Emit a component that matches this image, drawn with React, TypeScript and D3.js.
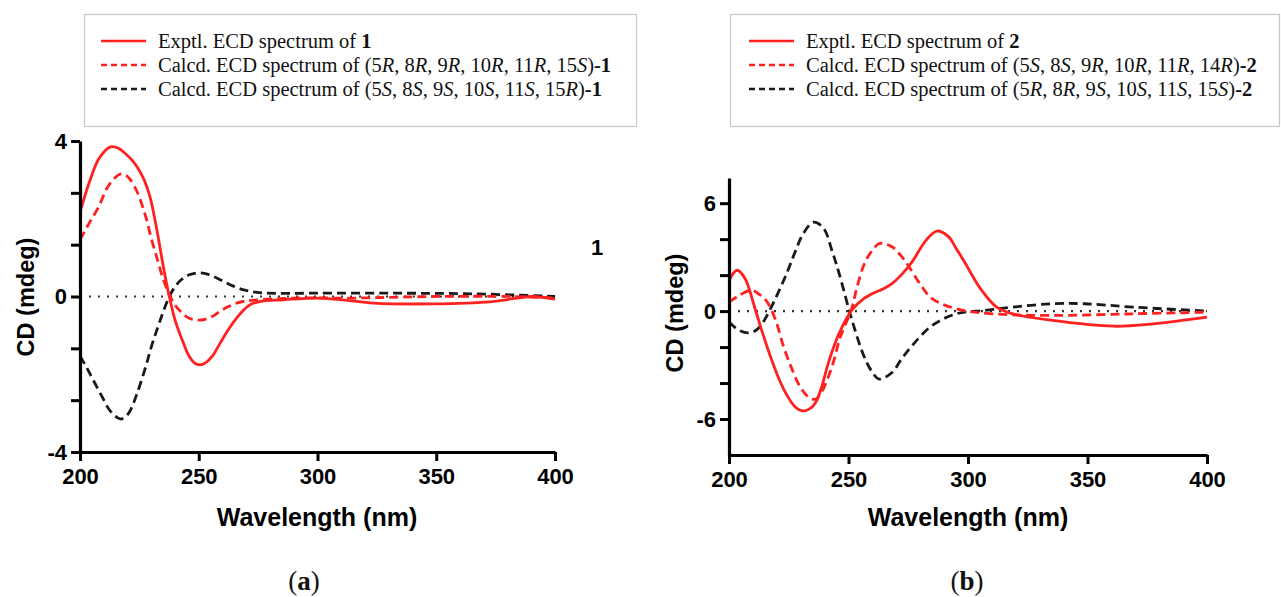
import React, { useEffect, useRef } from "react";
import * as d3 from "d3";

// wavelength (nm) / CD (mdeg) pairs
const exptA: [number, number][] = [
  [200, 2.17], [204, 2.95], [208, 3.55], [212.8, 3.85], [216, 3.82], [219.4, 3.66], [222, 3.5],
  [224.4, 3.3], [227, 3.0], [229.3, 2.6], [231, 2.15], [233, 1.5], [235, 0.8], [237.6, 0],
  [240, -0.6], [242.6, -1.05], [245.9, -1.53], [248, -1.7], [250.4, -1.76], [253, -1.7],
  [255.8, -1.53], [259, -1.2], [262.5, -0.85], [266, -0.55], [269, -0.34], [272, -0.2],
  [275.7, -0.13], [285.7, -0.085], [299, -0.04], [310.5, -0.085], [323.8, -0.17],
  [348.6, -0.19], [373.5, -0.13], [390, 0], [400, -0.07],
];
const calcA1: [number, number][] = [
  [200, 1.46], [204, 1.9], [207.8, 2.3], [212, 2.85], [216.9, 3.15], [219, 3.13], [221, 3.02],
  [224, 2.7], [227.7, 2.05], [230, 1.5], [232.6, 0.95], [235, 0.45], [237.6, 0.05],
  [240, -0.22], [242.6, -0.4], [246, -0.56], [250, -0.61], [253, -0.58], [255.8, -0.51],
  [259, -0.38], [262.5, -0.26], [267, -0.15], [272.4, -0.1], [290.6, -0.04], [315.5, -0.04],
  [348.6, 0], [381.7, 0], [400, -0.04],
];
const calcA2: [number, number][] = [
  [200, -1.53], [203, -1.85], [206, -2.2], [209.5, -2.6], [212.8, -2.95], [216.9, -3.15],
  [219, -3.1], [221, -2.95], [224, -2.5], [227.7, -1.8], [230, -1.3], [232.6, -0.82],
  [235, -0.4], [237.6, 0], [240, 0.25], [242.6, 0.43], [246, 0.56], [250, 0.61], [254, 0.57],
  [259.1, 0.43], [264, 0.28], [269, 0.17], [274, 0.11], [279, 0.085], [299, 0.085],
  [332, 0.085], [365, 0.07], [400, 0],
];

const exptB: [number, number][] = [
  [200, 1.71], [203.4, 2.27], [206.7, 1.81], [210.9, 0.13], [214, -1.2], [217.7, -2.66],
  [221, -3.8], [224.4, -4.71], [227.5, -5.3], [230.8, -5.55], [233.5, -5.45], [236.2, -5.09],
  [238.8, -4.2], [241.2, -3.04], [243.8, -2.0], [246.3, -1.17], [251.3, 0.04], [256.4, 0.69],
  [261.4, 1.06], [264, 1.2], [268.2, 1.53], [272, 2.0], [276.6, 2.74], [282.5, 3.95],
  [287, 4.45], [291.8, 4.14], [295, 3.5], [298.5, 2.74], [305.2, 1.25], [312, 0.22],
  [318.7, -0.15], [335.5, -0.52], [360.8, -0.84], [377.6, -0.71], [400, -0.34],
];
const calcB1: [number, number][] = [
  [200, 0.5], [204, 0.85], [209.3, 1.16], [212.5, 0.95], [216, 0.5], [219.5, -0.5],
  [222.7, -1.92], [226, -3.1], [229.5, -4.15], [233, -4.75], [236.2, -4.9], [238.5, -4.55],
  [241.2, -3.78], [244, -2.7], [246.3, -1.55], [251.3, 0.13], [253.5, 1.3], [256.4, 2.55],
  [259.5, 3.3], [263.1, 3.76], [268.2, 3.58], [271.5, 3.15], [274.9, 2.55], [280, 1.5],
  [285, 0.69], [295.1, 0.13], [310.3, -0.15], [335.5, -0.24], [369.2, -0.15], [400, -0.06],
];
const calcB2: [number, number][] = [
  [200, -0.61], [204, -1.05], [208.4, -1.21], [211.5, -1.05], [214.3, -0.61], [219.4, 0.69],
  [224.4, 2.18], [228, 3.4], [231.1, 4.32], [235.4, 4.94], [239.6, 4.6], [243, 3.4],
  [246.3, 1.99], [251.3, -0.43], [256.4, -2.48], [259.5, -3.3], [262.8, -3.78], [268.2, -3.41],
  [272, -2.7], [276.6, -1.92], [285, -0.8], [295.1, -0.15], [306.9, 0.04], [318.7, 0.22],
  [335.5, 0.41], [349, 0.41], [369.2, 0.22], [400, 0],
];

const xTicks = [200, 250, 300, 350, 400];
const legendA = [
  [["Exptl. ECD spectrum of ", ""], ["1", "b"]],
  [["Calcd. ECD spectrum of (5", ""], ["R", "i"], [", 8", ""], ["R", "i"], [", 9", ""], ["R", "i"], [", 10", ""], ["R", "i"], [", 11", ""], ["R", "i"], [", 15", ""], ["S", "i"], [")", ""], ["-1", "b"]],
  [["Calcd. ECD spectrum of (5", ""], ["S", "i"], [", 8", ""], ["S", "i"], [", 9", ""], ["S", "i"], [", 10", ""], ["S", "i"], [", 11", ""], ["S", "i"], [", 15", ""], ["R", "i"], [")", ""], ["-1", "b"]],
];
const legendB = [
  [["Exptl. ECD spectrum of ", ""], ["2", "b"]],
  [["Calcd. ECD spectrum of (5", ""], ["S", "i"], [", 8", ""], ["S", "i"], [", 9", ""], ["R", "i"], [", 10", ""], ["R", "i"], [", 11", ""], ["R", "i"], [", 14", ""], ["R", "i"], [")", ""], ["-2", "b"]],
  [["Calcd. ECD spectrum of (5", ""], ["R", "i"], [", 8", ""], ["R", "i"], [", 9", ""], ["S", "i"], [", 10", ""], ["S", "i"], [", 11", ""], ["S", "i"], [", 15", ""], ["S", "i"], [")", ""], ["-2", "b"]],
];

const RED = "#ff2020";
const BLACK = "#1a1a1a";
const sans = "'Liberation Sans', Arial, sans-serif";
const serif = "'Liberation Serif', 'Times New Roman', serif";

function drawPanel(svg: any, o: any) {
  const x = d3.scaleLinear().domain([200, 400]).range([o.left, o.right]);
  const y = d3.scaleLinear().domain(o.yDomain).range([o.bottom, o.top]);
  const g = svg.append("g");

  // legend box
  g.append("rect").attr("x", o.boxX + 0.5).attr("y", 14.5).attr("width", o.boxW).attr("height", 112)
    .attr("fill", "white").attr("stroke", "#c8c8c8").attr("stroke-width", 1.2);
  const styles = [
    { c: RED, d: null },
    { c: RED, d: "6,4" },
    { c: BLACK, d: "6,4" },
  ];
  o.legend.forEach((row: any, i: number) => {
    const ly = 41 + i * 24;
    g.append("line").attr("x1", o.lineX).attr("x2", o.lineX + 45).attr("y1", ly).attr("y2", ly)
      .attr("stroke", styles[i].c).attr("stroke-width", 2.5).attr("stroke-dasharray", styles[i].d);
    const t = g.append("text").attr("x", o.textX).attr("y", ly + 7)
      .attr("font-family", serif).attr("font-size", 20.5).attr("fill", "#111");
    row.forEach(([s, f]: [string, string]) => {
      t.append("tspan").text(s)
        .attr("font-style", f === "i" ? "italic" : null)
        .attr("font-weight", f === "b" ? "bold" : null);
    });
  });

  // zero line
  g.append("line").attr("x1", x(200)).attr("x2", x(400)).attr("y1", y(0)).attr("y2", y(0))
    .attr("stroke", "#333").attr("stroke-width", 2.2).attr("stroke-dasharray", "2,7");

  const line = d3.line<[number, number]>().x((d) => x(d[0])).y((d) => y(d[1]))
    .curve(d3.curveCatmullRom.alpha(0.5));
  const series = [
    { data: o.calc2, c: BLACK, d: "9,5" },
    { data: o.calc1, c: RED, d: "9,5" },
    { data: o.expt, c: RED, d: null },
  ];
  series.forEach((s) => {
    g.append("path").attr("d", line(s.data)).attr("fill", "none").attr("stroke", s.c)
      .attr("stroke-width", 2.8).attr("stroke-dasharray", s.d);
  });

  // axes
  const xAxis = g.append("g").attr("transform", `translate(0,${o.bottom})`)
    .call(d3.axisBottom(x).tickValues(xTicks).tickSize(9).tickSizeOuter(0).tickPadding(7));
  const yAxis = g.append("g").attr("transform", `translate(${o.left},0)`)
    .call(d3.axisLeft(y).tickValues(o.yTicks).tickSize(9).tickSizeOuter(0).tickPadding(4)
      .tickFormat((d: any) => (o.yLabels.includes(d) ? String(d) : "")));
  [xAxis, yAxis].forEach((a) => {
    a.select(".domain").attr("stroke", "#000").attr("stroke-width", 3.2);
    a.selectAll(".tick line").attr("stroke", "#000").attr("stroke-width", 3);
    a.selectAll(".tick text").attr("font-family", sans).attr("font-weight", "bold")
      .attr("font-size", 22).attr("fill", "#000");
  });

  g.append("text").attr("x", o.xLabelX).attr("y", 526)
    .attr("text-anchor", "middle").attr("font-family", sans).attr("font-weight", "bold")
    .attr("font-size", 25).text("Wavelength (nm)");
  g.append("text").attr("transform", `translate(${o.yLabelX},${o.yLabelY}) rotate(-90)`)
    .attr("text-anchor", "middle").attr("font-family", sans).attr("font-weight", "bold")
    .attr("font-size", 23.5).text("CD (mdeg)");

  const cap = g.append("text").attr("x", o.capX).attr("y", 590).attr("text-anchor", "middle")
    .attr("font-family", serif).attr("font-size", 27).attr("fill", "#111");
  cap.append("tspan").text("(");
  cap.append("tspan").attr("font-weight", "bold").text(o.cap);
  cap.append("tspan").text(")");
}

export default function App() {
  const ref = useRef<SVGSVGElement>(null);
  useEffect(() => {
    const svg = d3.select(ref.current);
    svg.selectAll("*").remove();
    drawPanel(svg, {
      left: 80, right: 555, top: 141, bottom: 452, yDomain: [-4, 4],
      yTicks: [-4, -8 / 3, -4 / 3, 0, 4 / 3, 8 / 3, 4], yLabels: [-4, 0, 4],
      expt: exptA, calc1: calcA1, calc2: calcA2, legend: legendA,
      boxX: 84, boxW: 552, lineX: 101, textX: 158, capX: 304, cap: "a",
      xLabelX: 317, yLabelX: 34, yLabelY: 297,
    });
    drawPanel(svg, {
      left: 729, right: 1207, top: 178, bottom: 455, yDomain: [-8, 7.4],
      yTicks: [-6, -4, -2, 0, 2, 4, 6], yLabels: [-6, 0, 6],
      expt: exptB, calc1: calcB1, calc2: calcB2, legend: legendB,
      boxX: 730, boxW: 549, lineX: 749, textX: 806, capX: 967, cap: "b",
      xLabelX: 968, yLabelX: 683, yLabelY: 313,
    });
    svg.append("text").attr("x", 597).attr("y", 255).attr("text-anchor", "middle")
      .attr("font-family", sans).attr("font-weight", "bold").attr("font-size", 22).text("1");
  }, []);
  return (
    <svg ref={ref} width={1281} height={597}
      style={{ position: "absolute", left: 0, top: 0, background: "white" }} />
  );
}
